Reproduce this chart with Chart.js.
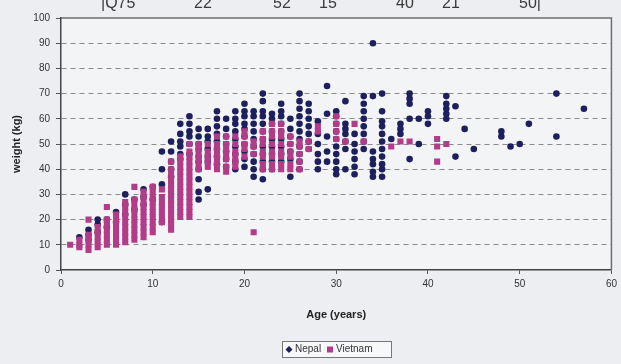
<!DOCTYPE html>
<html>
<head>
<meta charset="utf-8">
<script src="https://cdn.jsdelivr.net/npm/chart.js@4"></script>
<style>
  html, body { margin: 0; padding: 0; background: #eceef1; }
  #chart { display: block; }
</style>
</head>
<body>
<canvas id="chart" width="621" height="364"></canvas>
<script>
// cut-off table row above the chart
var headerLabels = ['|Q75', '22', '52', '15', '40', '21', '50|'];
var headerX = [101, 194, 273, 319, 396, 442, 519];

// Nepal: age and weight, grouped by age column
var nepalAge = [
  2, 3,3,3, 4,4,4, 5,5, 6,6, 7,7,7, 8,8, 9,9,9, 10,10,
  11,11,11,11, 12,12,12,12,12, 13,13,13,13,13,13, 14,14,14,14,14,14,
  15,15,15,15,15,15,15,15,15,15, 16,16,16,16,16,16,16,
  17,17,17,17,17,17,17,17, 18,18,18,18,18,18,18,
  19,19,19,19,19,19,19,19,19, 20,20,20,20,20,20,20,20,20,20,
  21,21,21,21,21,21,21,21,21,21, 22,22,22,22,22,22,22,22,22,22,22,22,
  23,23,23,23,23,23,23,23,23, 24,24,24,24,24,24,24,24,24,
  25,25,25,25,25,25,25, 26,26,26,26,26,26,26,26,26,26,26,
  27,27,27,27,27,27,27, 28,28,28,28,28,28, 29,29,29,29,29,
  30,30,30,30,30,30,30,30,30,30, 31,31,31,31,31,31,31,
  32,32,32,32,32,32, 33,33,33,33,33,33,33,33, 34,34,34,34,34,34,34,
  35,35,35,35,35,35,35,35,35,35,35, 36, 37,37,37, 38,38,38,38,38,
  39,39, 40,40,40, 42,42,42,42,42, 43,43, 44, 45, 48,48, 49, 50, 51,
  54,54, 57
];
var nepalWeight = [
  13, 12,14,16, 15,18,20, 17,20, 19,23, 22,26,30, 24,28, 26,29,32, 28,33,
  19,34,40,47, 37,40,43,47,51, 44,46,49,51,54,58, 46,50,53,55,58,61,
  28,31,36,40,43,45,48,50,53,56, 32,43,45,48,51,53,56,
  42,45,48,51,54,57,60,63, 41,44,47,50,53,56,60,
  40,43,46,49,52,55,58,60,63, 41,44,47,50,53,56,58,61,63,66,
  37,40,43,46,49,52,55,58,61,63, 36,40,43,46,49,52,55,58,61,63,67,70,
  40,43,46,49,52,55,58,60,62, 43,46,49,52,55,58,61,63,66,
  37,44,47,50,53,56,60, 40,43,46,49,52,55,58,61,64,67,70,
  48,51,54,57,60,63,66, 40,43,46,50,54,59, 43,47,53,62,73,
  38,40,43,46,49,52,55,58,61,63, 40,48,51,54,56,58,67,
  38,41,44,47,50,54, 48,51,54,57,60,63,66,69, 37,39,42,44,47,69,90,
  37,40,42,45,48,51,54,57,59,63,70, 52, 54,56,58, 44,60,66,68,70,
  50,60, 58,61,63, 60,62,64,66,69, 45,65, 56, 48, 53,55, 49, 50, 58,
  53,70, 64
];

// Vietnam: age and weight, grouped by age column
var vietnamAge = [
  1, 2,2,2, 3,3,3,3,3, 4,4,4,4,4, 5,5,5,5,5,5,5, 6,6,6,6,6,6,6,
  7,7,7,7,7,7,7,7,7, 8,8,8,8,8,8,8,8,8,8, 9,9,9,9,9,9,9,9,9,9,
  10,10,10,10,10,10,10,10,10,10, 11,11,11,11,11,11,11,
  12,12,12,12,12,12,12,12,12,12,12,12,12,12,
  13,13,13,13,13,13,13,13,13,13,13,13,13,
  14,14,14,14,14,14,14,14,14,14,14,14,14,14,14,
  15,15,15,15,15,15, 16,16,16,16,16, 17,17,17,17,17,17,17,
  18,18,18,18,18,18,18, 19,19,19,19,19,19, 20,20,20,20,20,
  21,21,21,21, 22,22,22,22,22,22,22, 23,23,23,23,23,23,23,23,
  24,24,24,24,24,24,24,24, 25,25,25,25,25,25, 26,26,26,26,26,
  27,27, 28,28, 30,30,30,30, 31, 32, 33, 36, 37, 38, 41,41,41, 42
];
var vietnamWeight = [
  10, 9,10,12, 8,10,12,14,20, 9,11,13,15,17, 10,12,14,16,18,20,25, 10,12,14,16,18,20,22,
  11,13,15,17,19,21,23,25,27, 12,14,16,18,20,22,24,26,28,33, 13,15,17,19,21,23,25,27,29,31,
  15,17,19,21,23,25,27,29,31,33, 19,21,23,25,27,29,32,
  16,18,20,22,24,26,28,30,32,34,36,38,40,43,
  21,23,25,27,29,31,33,35,37,39,41,43,45,
  21,23,25,27,29,31,33,35,37,39,41,43,45,47,50,
  40,42,44,46,48,50, 41,43,45,47,50, 40,42,44,46,48,50,53,
  39,41,44,46,48,50,53, 41,43,45,47,50,53, 45,48,50,53,55,
  15,46,49,51, 40,42,45,47,50,52,55, 40,42,45,47,50,53,55,58,
  40,42,45,47,50,53,55,58, 40,42,45,47,50,53, 40,43,46,49,51,
  48,51, 55,57, 52,55,58,61, 51, 58, 51, 49, 51, 51, 43,49,52, 50
];

var xTicks = [0, 10, 20, 30, 40, 50, 60];
var yTicks = [0, 10, 20, 30, 40, 50, 60, 70, 80, 90, 100];

var navy = '#1d205c';
var magenta = '#b23c87';

function toPoints(xs, ys) {
  var out = [];
  for (var i = 0; i < xs.length; i++) out.push({ x: xs[i], y: ys[i] });
  return out;
}

// background, frame, header text and legend
var decor = {
  id: 'decor',
  beforeDraw: function (chart) {
    var c = chart.ctx, a = chart.chartArea;
    c.save();
    c.fillStyle = '#eceef1';
    c.fillRect(0, 0, chart.width, chart.height);
    c.fillStyle = '#f3f4f6';
    c.fillRect(a.left, a.top, a.right - a.left, a.bottom - a.top);
    c.restore();
  },
  afterDraw: function (chart) {
    var c = chart.ctx, a = chart.chartArea;
    c.save();
    c.strokeStyle = '#6e6e6e';
    c.lineWidth = 1.5;
    c.beginPath();
    c.moveTo(a.left, a.top);
    c.lineTo(a.right, a.top);
    c.lineTo(a.right, a.bottom);
    c.stroke();

    c.fillStyle = '#3a3a3a';
    c.font = '16px "Liberation Sans", Arial, sans-serif';
    c.textBaseline = 'alphabetic';
    for (var i = 0; i < headerLabels.length; i++) {
      c.fillText(headerLabels[i], headerX[i], 8);
    }

    // legend box
    var bx = 282, by = 341, bw = 109, bh = 16;
    c.fillStyle = '#f7f8f9';
    c.fillRect(bx, by, bw, bh);
    c.strokeStyle = '#777';
    c.lineWidth = 1;
    c.strokeRect(bx + 0.5, by + 0.5, bw, bh);
    c.font = '10px "Liberation Sans", Arial, sans-serif';
    c.textBaseline = 'middle';
    var cy = by + bh / 2 + 0.5;
    c.fillStyle = navy;
    c.beginPath();
    c.moveTo(289, cy - 3.5); c.lineTo(292.5, cy); c.lineTo(289, cy + 3.5); c.lineTo(285.5, cy);
    c.closePath();
    c.fill();
    c.fillStyle = '#333';
    c.fillText('Nepal', 295, cy);
    c.fillStyle = magenta;
    c.fillRect(327, cy - 3, 6, 6);
    c.fillStyle = '#333';
    c.fillText('Vietnam', 336, cy);
    c.restore();
  }
};

var tickFont = { family: '"Liberation Sans", Arial, sans-serif', size: 10 };
var titleFont = { family: '"Liberation Sans", Arial, sans-serif', size: 11, weight: 'bold' };

new Chart(document.getElementById('chart'), {
  type: 'scatter',
  data: {
    datasets: [
      {
        label: 'Nepal',
        data: toPoints(nepalAge, nepalWeight),
        pointStyle: 'circle',
        pointRadius: 3.3,
        borderWidth: 0,
        backgroundColor: navy,
        borderColor: navy,
        order: 2
      },
      {
        label: 'Vietnam',
        data: toPoints(vietnamAge, vietnamWeight),
        pointStyle: 'rect',
        pointRadius: 4.3,
        borderWidth: 0,
        backgroundColor: magenta,
        borderColor: magenta,
        order: 1
      }
    ]
  },
  options: {
    responsive: false,
    animation: false,
    layout: { padding: { top: 18, right: 8, left: 0, bottom: 0 } },
    plugins: { legend: { display: false }, tooltip: { enabled: false } },
    scales: {
      x: {
        type: 'linear', min: 0, max: 60,
        afterBuildTicks: function (s) { s.ticks = xTicks.map(function (v) { return { value: v }; }); },
        afterFit: function (s) { s.height = 94; },
        ticks: { color: '#333', font: tickFont, padding: 4, maxRotation: 0 },
        grid: { drawOnChartArea: false, tickLength: 4, tickColor: '#555' },
        border: { color: '#444', width: 1.5 },
        title: { display: true, text: 'Age (years)', color: '#222', font: titleFont, padding: { top: 0, bottom: 42 } }
      },
      y: {
        min: 0, max: 100,
        afterBuildTicks: function (s) { s.ticks = yTicks.map(function (v) { return { value: v }; }); },
        afterFit: function (s) { s.width = 61; },
        ticks: { color: '#333', font: tickFont, padding: 6 },
        grid: {
          color: function (ctx) {
            var v = ctx.tick && ctx.tick.value;
            return (v === 0 || v === 100) ? 'rgba(0,0,0,0)' : '#8a8a8a';
          },
          tickColor: '#555',
          tickLength: 5,
          tickBorderDash: []
        },
        border: { color: '#444', width: 1.5, dash: [5, 4] },
        title: { display: true, text: 'weight (kg)', color: '#222', font: titleFont, padding: { top: 10, bottom: 0 } }
      }
    }
  },
  plugins: [decor]
});
</script>
</body>
</html>
